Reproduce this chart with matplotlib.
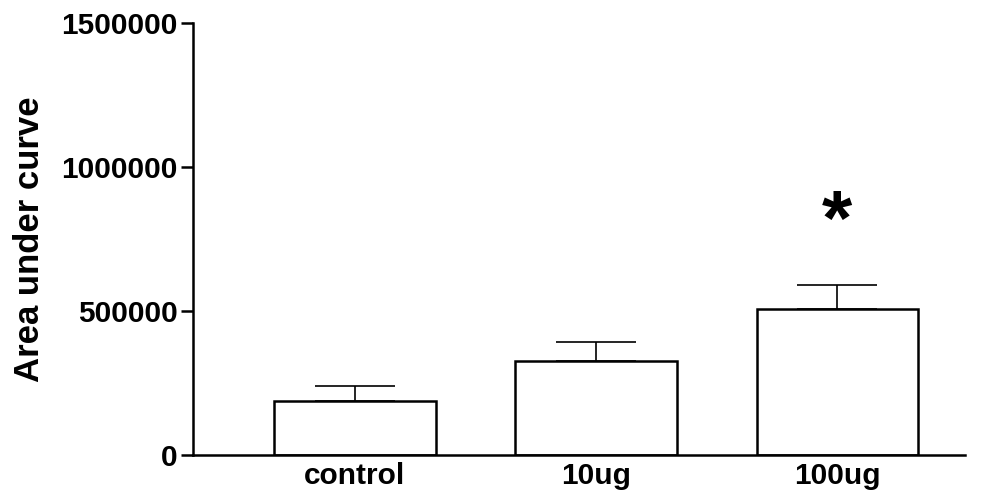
import numpy as np
import matplotlib.pyplot as plt

plt.rcParams['font.family'] = ['Liberation Sans', 'DejaVu Sans']
plt.rcParams['font.weight'] = 'bold'

groups = ['control', '10ug', '100ug']
auc_mean = [188000, 326000, 507000]
auc_sem = [52000, 66000, 83000]
yticks = [0, 500000, 1000000, 1500000]

fig = plt.figure(figsize=(9.91, 4.95), dpi=100)
ax = fig.add_axes([0.195, 0.081, 0.779, 0.873])

x = np.arange(len(groups))
ax.bar(x, auc_mean, width=0.67, color='white', edgecolor='black', linewidth=1.8, zorder=2)
# only the upper half of the error bar is drawn
ax.errorbar(x, auc_mean, yerr=[np.zeros(3), auc_sem], fmt='none', ecolor='black',
            elinewidth=1.2, capsize=29, capthick=1.2, zorder=1)

# significance mark over 100ug
ax.text(x[2], 800000, '*', ha='center', va='center', fontsize=56, fontweight='bold')

ax.set_xlim(-0.67, 2.53)
ax.set_ylim(0, 1500000)
ax.set_yticks(yticks)
ax.set_yticklabels([str(v) for v in yticks])
ax.set_xticks(x)
ax.set_xticklabels(groups)
ax.set_ylabel('Area under curve', fontsize=25, fontweight='bold', labelpad=11)

for s in ['top', 'right']:
    ax.spines[s].set_visible(False)
for s in ['left', 'bottom']:
    ax.spines[s].set_linewidth(1.8)
ax.tick_params(axis='y', length=9, width=1.8, labelsize=21.5, pad=2)
ax.tick_params(axis='x', length=0, labelsize=21.5, pad=5)

plt.savefig('out.png', dpi=100)
